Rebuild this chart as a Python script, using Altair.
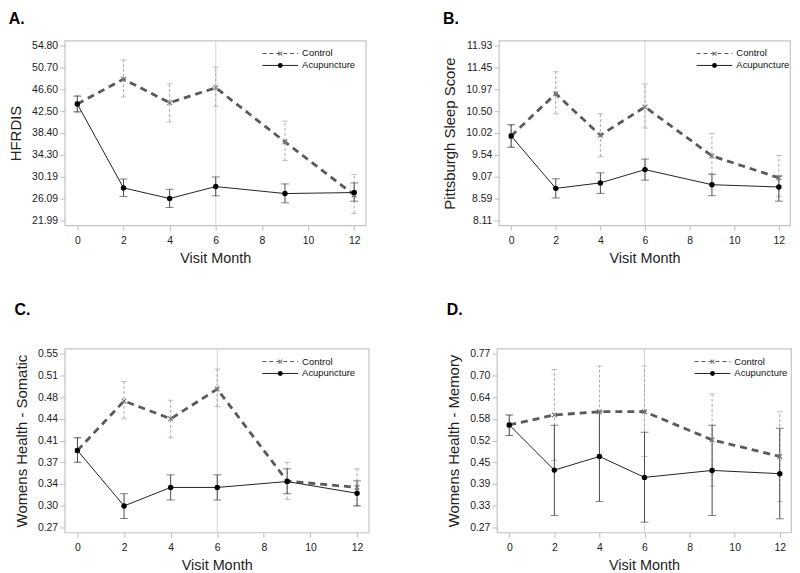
import altair as alt
import pandas as pd
import numpy as np

months = [0, 2, 4, 6, 9, 12]
groups = ["Control", "Acupuncture"]
ref_month = 6
x_ticks = [0, 2, 4, 6, 8, 10, 12]
x_title = "Visit Month"

# Panel A: HFRDIS
a_ctrl = [43.84, 48.51, 44.09, 46.89, 36.74, 26.78]
a_ctrl_hi = [45.46, 52.12, 47.64, 50.75, 40.61, 30.58]
a_ctrl_lo = [42.22, 45.15, 40.48, 43.41, 33.20, 23.30]
a_acu = [43.84, 28.09, 26.10, 28.34, 27.03, 27.22]
a_acu_hi = [45.30, 29.77, 27.84, 30.15, 28.84, 29.02]
a_acu_lo = [42.40, 26.47, 24.42, 26.60, 25.29, 25.60]
a_ticks = ["21.99", "26.09", "30.19", "34.30", "38.40", "42.50", "46.60", "50.70", "54.80"]

# Panel B: Pittsburgh Sleep Score
b_ctrl = [9.955, 10.88, 9.97, 10.59, 9.52, 9.04]
b_ctrl_hi = [10.20, 11.36, 10.44, 11.09, 10.01, 9.53]
b_ctrl_lo = [9.71, 10.44, 9.50, 10.13, 9.12, 8.63]
b_acu = [9.955, 8.81, 8.93, 9.22, 8.89, 8.84]
b_acu_hi = [10.20, 9.02, 9.15, 9.45, 9.12, 9.08]
b_acu_lo = [9.71, 8.60, 8.70, 8.99, 8.65, 8.53]
b_ticks = ["8.11", "8.59", "9.07", "9.54", "10.02", "10.50", "10.97", "11.45", "11.93"]

# Panel C: Womens Health - Somatic
c_ctrl = [0.394, 0.4737, 0.445, 0.493, 0.3447, 0.3345]
c_ctrl_hi = [0.4145, 0.505, 0.475, 0.525, 0.375, 0.3644]
c_ctrl_lo = [0.375, 0.445, 0.4145, 0.4647, 0.3153, 0.3047]
c_acu = [0.394, 0.3047, 0.3345, 0.3345, 0.344, 0.325]
c_acu_hi = [0.4145, 0.3244, 0.3548, 0.3548, 0.3644, 0.345]
c_acu_lo = [0.375, 0.2844, 0.3143, 0.3143, 0.3244, 0.3047]
c_ticks = ["0.27", "0.30", "0.34", "0.37", "0.41", "0.44", "0.48", "0.51", "0.55"]

# Panel D: Womens Health - Memory
d_ctrl = [0.565, 0.5935, 0.603, 0.603, 0.522, 0.4743]
d_ctrl_hi = [0.5935, 0.7242, 0.7347, 0.7347, 0.6536, 0.603]
d_ctrl_lo = [0.5344, 0.4628, 0.4724, 0.4743, 0.3884, 0.3445]
d_acu = [0.565, 0.435, 0.4743, 0.414, 0.434, 0.4247]
d_acu_hi = [0.5935, 0.564, 0.603, 0.5439, 0.564, 0.5553]
d_acu_lo = [0.5344, 0.3045, 0.3445, 0.2854, 0.3045, 0.2949]
d_ticks = ["0.27", "0.33", "0.39", "0.45", "0.52", "0.58", "0.64", "0.70", "0.77"]

FONT = "Liberation Sans"
X_PATH = "M-1,-1L1,1M-1,1L1,-1"


def panel(letter, ytitle, ticklabels, ctrl, ctrl_lo, ctrl_hi, acu, acu_lo, acu_hi,
          width, height, title_offset):
    n = len(months)
    df = pd.DataFrame({
        "month": months * 2,
        "group": [groups[0]] * n + [groups[1]] * n,
        "mean": ctrl + acu,
        "lo": ctrl_lo + acu_lo,
        "hi": ctrl_hi + acu_hi,
    })
    tmin, tmax = float(ticklabels[0]), float(ticklabels[-1])
    step = (tmax - tmin) / (len(ticklabels) - 1)
    tick_vals = [float(v) for v in np.linspace(tmin, tmax, len(ticklabels))]
    pad = step * 0.23
    ydom = [tmin - pad, tmax + pad]
    arr = "[" + ",".join(f"'{t}'" for t in ticklabels) + "]"

    xscale = alt.Scale(domain=[-0.55, 12.5], nice=False, zero=False)
    xaxis = alt.Axis(values=x_ticks, title=x_title, grid=False, domain=False,
                     tickColor="#bdbdbd", tickSize=5, labelFontSize=10.5,
                     labelColor="#222", titleFontSize=14.5, titleFontWeight="normal",
                     titleColor="#222", titlePadding=6, labelPadding=5, labelFont=FONT,
                     titleFont=FONT)
    yscale = alt.Scale(domain=ydom, nice=False, zero=False)
    yaxis = alt.Axis(values=tick_vals, labelExpr=f"{arr}[round(datum.index*{len(ticklabels)-1})]",
                     title=ytitle, grid=False, domain=False, tickColor="#bdbdbd", tickSize=5,
                     labelFontSize=10.5, labelColor="#222", titleFontSize=15,
                     titleFontWeight="normal", titleColor="#222", titlePadding=8,
                     labelPadding=2, labelFont=FONT, titleFont=FONT)

    X = alt.X("month:Q", scale=xscale, axis=xaxis)
    base = alt.Chart(df)
    ctrl_f = alt.datum.group == groups[0]
    acu_f = alt.datum.group == groups[1]

    ref = alt.Chart(pd.DataFrame({"month": [ref_month]})).mark_rule(
        color="#d4d4d4", strokeWidth=1).encode(x=X)

    ctrl_err = base.transform_filter(ctrl_f).mark_errorbar(
        ticks=True, size=6, thickness=1, color="#a8a8a8",
        rule={"strokeDash": [3, 2]}).encode(
        x=X, y=alt.Y("lo:Q", scale=yscale, axis=yaxis), y2="hi:Q")
    acu_err = base.transform_filter(acu_f).mark_errorbar(
        ticks=True, size=8, thickness=1, color="#4a4a4a").encode(
        x=X, y=alt.Y("lo:Q", scale=yscale, axis=yaxis), y2="hi:Q")

    Y = alt.Y("mean:Q", scale=yscale, axis=yaxis)
    ctrl_line = base.transform_filter(ctrl_f).mark_line(
        color="#5a5a5a", strokeWidth=2.8, strokeDash=[7, 5]).encode(x=X, y=Y)
    acu_line = base.transform_filter(acu_f).mark_line(
        color="#222", strokeWidth=1).encode(x=X, y=Y)
    ctrl_pts = base.transform_filter(ctrl_f).mark_point(
        shape=X_PATH, size=22, color="#777", strokeWidth=1.2, filled=False,
        opacity=1).encode(x=X, y=Y)
    acu_pts = base.transform_filter(acu_f).mark_point(
        shape="circle", size=30, color="black", filled=True, opacity=1).encode(x=X, y=Y)

    # legend (inside the plot, upper right)
    leg = []
    rows = [13, 25]
    for gi, g in enumerate(groups):
        ld = alt.Chart(pd.DataFrame({"label": [g]}))
        yv = alt.value(rows[gi])
        if gi == 0:
            leg.append(ld.mark_rule(color="#555", strokeWidth=1, strokeDash=[4, 3]).encode(
                x=alt.value(199), x2=alt.value(235), y=yv))
            leg.append(ld.mark_point(shape=X_PATH, size=16, color="#777", strokeWidth=1.1,
                                     filled=False, opacity=1).encode(x=alt.value(217), y=yv))
        else:
            leg.append(ld.mark_rule(color="#222", strokeWidth=1).encode(
                x=alt.value(199), x2=alt.value(235), y=yv))
            leg.append(ld.mark_point(shape="circle", size=24, color="black", filled=True,
                                     opacity=1).encode(x=alt.value(217), y=yv))
        leg.append(ld.mark_text(align="left", baseline="middle", fontSize=9.5, font=FONT,
                                color="#111").encode(x=alt.value(239), y=yv, text="label:N"))

    return alt.layer(ref, ctrl_err, acu_err, ctrl_line, acu_line, ctrl_pts, acu_pts, *leg).properties(
        width=width, height=height,
        title=alt.TitleParams(letter, anchor="start", fontSize=16, fontWeight="bold", font=FONT,
                              color="#000", offset=title_offset),
    )


pA = panel("A.", "HFRDIS", a_ticks, a_ctrl, a_ctrl_lo, a_ctrl_hi, a_acu, a_acu_lo, a_acu_hi, 303, 186, 13)
pB = panel("B.", "Pittsburgh Sleep Score", b_ticks, b_ctrl, b_ctrl_lo, b_ctrl_hi, b_acu, b_acu_lo, b_acu_hi, 293, 186, 13)
pC = panel("C.", "Womens Health - Somatic", c_ticks, c_ctrl, c_ctrl_lo, c_ctrl_hi, c_acu, c_acu_lo, c_acu_hi, 306, 185, 30)
pD = panel("D.", "Womens Health - Memory", d_ticks, d_ctrl, d_ctrl_lo, d_ctrl_hi, d_acu, d_acu_lo, d_acu_hi, 296, 185, 30)

chart = alt.vconcat(
    alt.hconcat(pA, pB, spacing=76),
    alt.hconcat(pC, pD, spacing=76),
    spacing=35,
).properties(
    padding={"left": 0, "top": 0, "right": 0, "bottom": 0},
    background="white",
).configure_view(stroke="#c4c4c4", strokeWidth=1.2)

chart.save("out.html", embed_options={"renderer": "svg", "actions": False})
